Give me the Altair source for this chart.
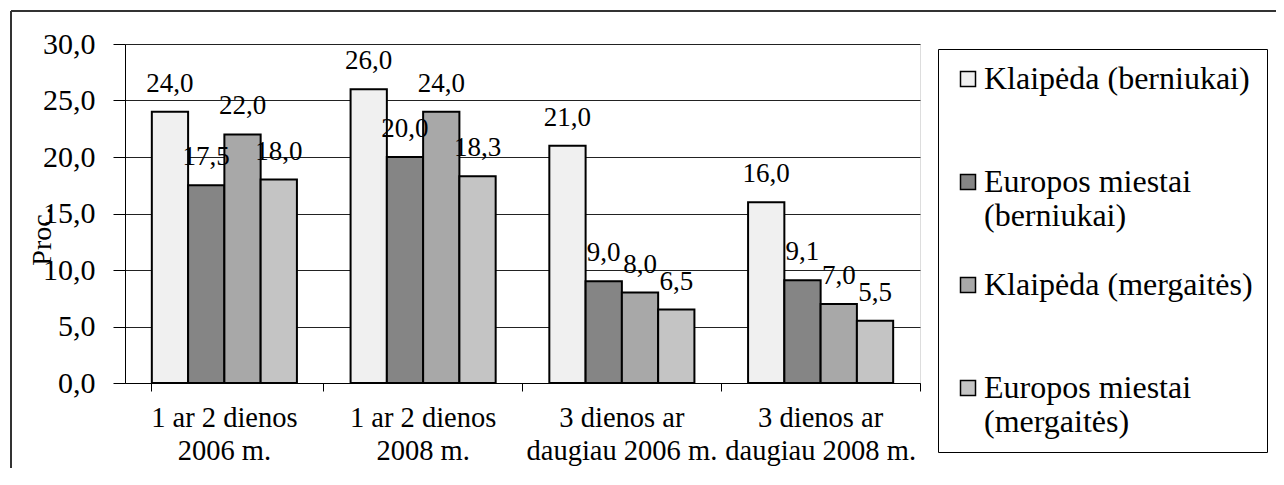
import altair as alt
import pandas as pd

categories = ["1 ar 2 dienos\n2006 m.", "1 ar 2 dienos\n2008 m.",
              "3 dienos ar\ndaugiau 2006 m.", "3 dienos ar\ndaugiau 2008 m."]
series = ["Klaipėda (berniukai)", "Europos miestai (berniukai)",
          "Klaipėda (mergaitės)", "Europos miestai (mergaitės)"]
values = {
    "Klaipėda (berniukai)": [24.0, 26.0, 21.0, 16.0],
    "Europos miestai (berniukai)": [17.5, 20.0, 9.0, 9.1],
    "Klaipėda (mergaitės)": [22.0, 24.0, 8.0, 7.0],
    "Europos miestai (mergaitės)": [18.0, 18.3, 6.5, 5.5],
}
fills = ["#f0f0f0", "#858585", "#a8a8a8", "#c4c4c4"]

rows = []
for s in series:
    for c, v in zip(categories, values[s]):
        rows.append({"cat": c, "series": s, "value": v})
df = pd.DataFrame(rows)

FONT = "Liberation Serif"

x_enc = alt.X("cat:N", sort=categories, title=None,
              scale=alt.Scale(paddingInner=0.27, paddingOuter=0.135),
              axis=alt.Axis(labelExpr="split(datum.label, '\\n')", labelAngle=0,
                            labelFontSize=28.5, labelLineHeight=33, labelFont=FONT,
                            labelColor="black", labelPadding=12, labelLimit=400,
                            labelOverlap=False, labelBaseline="top",
                            tickSize=8, tickColor="black", domainColor="black",
                            bandPosition=1.186, tickExtra=True, grid=False))
xo_enc = alt.XOffset("series:N", sort=series,
                     scale=alt.Scale(paddingInner=0, paddingOuter=0))
y_enc = alt.Y("value:Q", scale=alt.Scale(domain=[0, 30], nice=False),
              axis=alt.Axis(values=[0, 5, 10, 15, 20, 25, 30],
                            labelExpr="replace(format(datum.value, '.1f'), '.', ',')",
                            labelFontSize=30, labelFont=FONT, labelColor="black",
                            labelPadding=18, tickSize=12, tickColor="black",
                            domainColor="black", gridColor="#222", gridWidth=1,
                            title="Proc.", titleFont=FONT, titleFontSize=28,
                            titleFontWeight="normal", titleColor="black",
                            titleAngle=270, titleAlign="center", titleBaseline="middle",
                            titleX=-83, titleY=192))

legend = alt.Legend(title=None, orient="none", legendX=813, legendY=5,
                    strokeColor="black", padding=14, fillColor="white",
                    symbolType="square", symbolSize=225, symbolStrokeColor="black",
                    symbolStrokeWidth=1.5,
                    labelFont=FONT, labelFontSize=32,
                    labelColor="black", labelLimit=400, labelOffset=0,
                    labelBaseline="middle", rowPadding=37,
                    labelExpr="indexof(datum.label, 'Europos') == 0 ? split(replace(datum.label, ' (', '\\n('), '\\n') : [datum.label, '']")

bars = alt.Chart(df).mark_bar(stroke="black", strokeWidth=2).encode(
    x=x_enc, xOffset=xo_enc, y=y_enc,
    fill=alt.Fill("series:N", sort=series,
                  scale=alt.Scale(domain=series, range=fills), legend=legend),
)

labels = alt.Chart(df).transform_calculate(
    lab="replace(format(datum.value, '.1f'), '.', ',')"
).mark_text(font=FONT, fontSize=27, baseline="bottom", dy=-14, color="black").encode(
    x=alt.X("cat:N", sort=categories), xOffset=alt.XOffset("series:N", sort=series),
    y="value:Q", text="lab:N",
)

frame_df = pd.DataFrame({"k": [0]})
frame_top = alt.Chart(frame_df).mark_rule(color="#333", strokeWidth=2).encode(
    x=alt.value(-114), x2=alt.value(1200), y=alt.value(-33))
frame_left = alt.Chart(frame_df).mark_rule(color="#333", strokeWidth=2).encode(
    x=alt.value(-114), y=alt.value(-33), y2=alt.value(440))

chart = alt.layer(frame_top, frame_left, bars, labels).properties(
    width=795, height=339,
    autosize=alt.AutoSizeParams(type="none"),
    padding={"left": 117, "top": 36, "right": 356, "bottom": 85},
).configure_view(stroke="black", strokeWidth=1).configure(background="white",
                                                           font=FONT)

chart.save("out.html", embed_options={"renderer": "svg", "actions": False})
